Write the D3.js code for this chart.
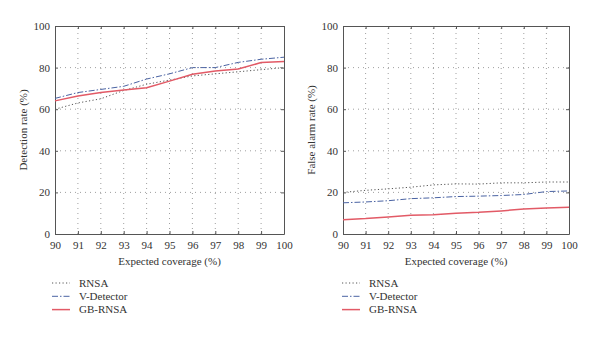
<!DOCTYPE html>
<html><head><meta charset="utf-8">
<script src="https://cdn.jsdelivr.net/npm/d3@7"></script>
<style>body{margin:0;background:#fff}svg{display:block}text{font-family:"Liberation Serif","DejaVu Serif",serif;fill:#333}</style>
</head><body><svg id="c" width="600" height="337"></svg>
<script>
const coverage = [90,91,92,93,94,95,96,97,98,99,100];
const xTicks = [90,91,92,93,94,95,96,97,98,99,100];
const yTicks = [0,20,40,60,80,100];
const seriesNames = ["RNSA","V-Detector","GB-RNSA"];
const detRNSA = [60,63,65,69,72,74,76,77,78,79,80];
const detVDet = [65.2,68,69.5,71,74.5,77,80,80,82.5,84,85];
const detGB = [64,66.3,68,69.2,70.3,73.5,76.8,78.4,79.3,82.4,82.9];
const faRNSA = [20,21,21.7,22.5,23.6,24.1,24,24.6,24.6,25,25];
const faVDet = [15,15.4,16,17,17.4,18,18.2,18.5,19,20.4,20.7];
const faGB = [6.9,7.4,8.2,9,9.2,10,10.4,11.1,12,12.5,12.9];

const styles = [
  {color:"#555", dash:"1.2,2.3", width:1},
  {color:"#4a63a3", dash:"6,2,1.5,2", width:1},
  {color:"#e25a66", dash:null, width:1.5}
];
const FS = "11px";
const svg = d3.select("#c");

function panel(x0, x1, yTitle, data, legX) {
  const x = d3.scaleLinear().domain([90,100]).range([x0,x1]);
  const y = d3.scaleLinear().domain([0,100]).range([234,26]);
  const g = svg.append("g");
  g.selectAll(".gx").data(xTicks.slice(1,-1)).join("line")
    .attr("x1",d=>x(d)).attr("x2",d=>x(d)).attr("y1",y(0)).attr("y2",y(100))
    .attr("stroke","#888").attr("stroke-width",0.8).attr("stroke-dasharray","1,4");
  g.selectAll(".gy").data(yTicks.slice(1,-1)).join("line")
    .attr("x1",x(90)).attr("x2",x(100)).attr("y1",d=>y(d)).attr("y2",d=>y(d))
    .attr("stroke","#888").attr("stroke-width",0.8).attr("stroke-dasharray","1,4");
  const ax = g.append("g").attr("transform",`translate(0,${y(0)})`)
    .call(d3.axisBottom(x).tickValues(xTicks).tickSizeInner(-3).tickSizeOuter(0).tickPadding(7).tickFormat(d3.format("d")));
  const ay = g.append("g").attr("transform",`translate(${x(90)},0)`)
    .call(d3.axisLeft(y).tickValues(yTicks).tickSizeInner(-3).tickSizeOuter(0).tickPadding(5));
  const axTop = g.append("g").attr("transform",`translate(0,${y(100)})`)
    .call(d3.axisTop(x).tickValues(xTicks).tickSizeInner(-3).tickSizeOuter(0).tickFormat(""));
  const ayR = g.append("g").attr("transform",`translate(${x(100)},0)`)
    .call(d3.axisRight(y).tickValues(yTicks).tickSizeInner(-3).tickSizeOuter(0).tickFormat(""));
  [ax,ay,axTop,ayR].forEach(a=>{
    a.selectAll("path").attr("stroke","#555").attr("stroke-width",1);
    a.selectAll("line").attr("stroke","#555");
    a.selectAll("text").style("font-family","Liberation Serif, serif").style("font-size",FS).attr("fill","#333");
  });
  const line = d3.line().x((d,i)=>x(coverage[i])).y(d=>y(d));
  data.forEach((s,i)=>{
    g.append("path").attr("d",line(s)).attr("fill","none")
      .attr("stroke",styles[i].color).attr("stroke-width",styles[i].width)
      .attr("stroke-dasharray",styles[i].dash);
  });
  g.append("text").attr("x",(x0+x1)/2).attr("y",265).attr("text-anchor","middle")
    .style("font-size",FS).text("Expected coverage (%)");
  g.append("text").attr("transform",`translate(${x0-28},${(26+234)/2}) rotate(-90)`)
    .attr("text-anchor","middle").style("font-size",FS).text(yTitle);
  seriesNames.forEach((n,i)=>{
    const ly = 283 + i*13.3;
    g.append("line").attr("x1",legX).attr("x2",legX+18).attr("y1",ly).attr("y2",ly)
      .attr("stroke",styles[i].color).attr("stroke-width",styles[i].width)
      .attr("stroke-dasharray",styles[i].dash);
    g.append("text").attr("x",legX+27).attr("y",ly+3.5).style("font-size",FS).text(n);
  });
}
panel(55, 284, "Detection rate (%)", [detRNSA, detVDet, detGB], 52);
panel(343, 569, "False alarm rate (%)", [faRNSA, faVDet, faGB], 342);
</script></body></html>
